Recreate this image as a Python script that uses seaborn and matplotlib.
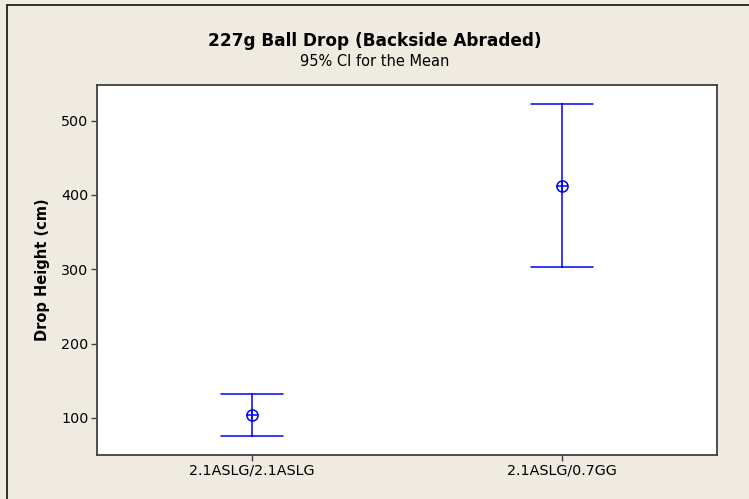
import matplotlib
matplotlib.use("Agg")
import matplotlib.pyplot as plt
from matplotlib.lines import Line2D
import seaborn as sns
import pandas as pd

# 95% confidence intervals for mean drop height (cm)
groups = ["2.1ASLG/2.1ASLG", "2.1ASLG/0.7GG"]
ci_lower = [75.8, 302.8]
means = [104.0, 412.6]
ci_upper = [132.3, 522.5]

yticks = [100, 200, 300, 400, 500]

title = "227g Ball Drop (Backside Abraded)"
subtitle = "95% CI for the Mean"
ylabel = "Drop Height (cm)"

bg = "#EFEBE1"
blue = "#0000FF"
frame = "#404040"

# long table: lower / mean / upper per group; median gives the mean, min-max the interval
rows = []
for g, lo, m, hi in zip(groups, ci_lower, means, ci_upper):
    for v in (lo, m, hi):
        rows.append({"group": g, "value": v})
df = pd.DataFrame(rows)

sns.set_theme(style="ticks")
plt.rcParams["font.family"] = ["DejaVu Sans"]
plt.rcParams["text.color"] = "black"
plt.rcParams["axes.labelcolor"] = "black"

fig = plt.figure(figsize=(7.49, 4.99), dpi=100, facecolor=bg)
ax = fig.add_axes([97 / 749, 1 - 455 / 499, (717 - 97) / 749, (455 - 85) / 499])
ax.set_facecolor("white")

interval = lambda x: (x.min(), x.max())

sns.pointplot(
    data=df, x="group", y="value", order=groups,
    estimator="median", errorbar=interval,
    color=blue, linestyle="none", marker="o", markersize=8,
    markerfacecolor="none", markeredgewidth=1.1,
    capsize=0.2, err_kws={"linewidth": 1.1},
    ax=ax,
)
sns.pointplot(
    data=df, x="group", y="value", order=groups,
    estimator="median", errorbar=None,
    color=blue, linestyle="none", marker="+", markersize=8,
    markeredgewidth=1.1, ax=ax,
)

ax.set_xlim(-0.5, 1.5)
ax.set_ylim(50, 548)
ax.set_yticks(yticks)
ax.set_xlabel("")
ax.set_ylabel(ylabel, fontsize=10.5, fontweight="bold", labelpad=8)

for s in ax.spines.values():
    s.set_visible(True)
    s.set_color(frame)
    s.set_linewidth(1.3)
ax.tick_params(axis="both", length=4, width=1, color=frame, pad=2,
               labelsize=10.3, labelcolor="black")

fig.text(0.5, 1 - 41 / 499, title, ha="center", va="center",
         fontsize=12.2, fontweight="bold", color="black")
fig.text(0.5, 1 - 61.5 / 499, subtitle, ha="center", va="center",
         fontsize=10.5, color="black")

# outer frame edges
fig.add_artist(Line2D([7 / 749, 1], [1 - 4.5 / 499] * 2, color="#202020",
                      linewidth=1.3, transform=fig.transFigure))
fig.add_artist(Line2D([7 / 749] * 2, [0, 1 - 4.5 / 499], color="#202020",
                      linewidth=1.3, transform=fig.transFigure))

fig.savefig("out.png", dpi=100, facecolor=bg)
